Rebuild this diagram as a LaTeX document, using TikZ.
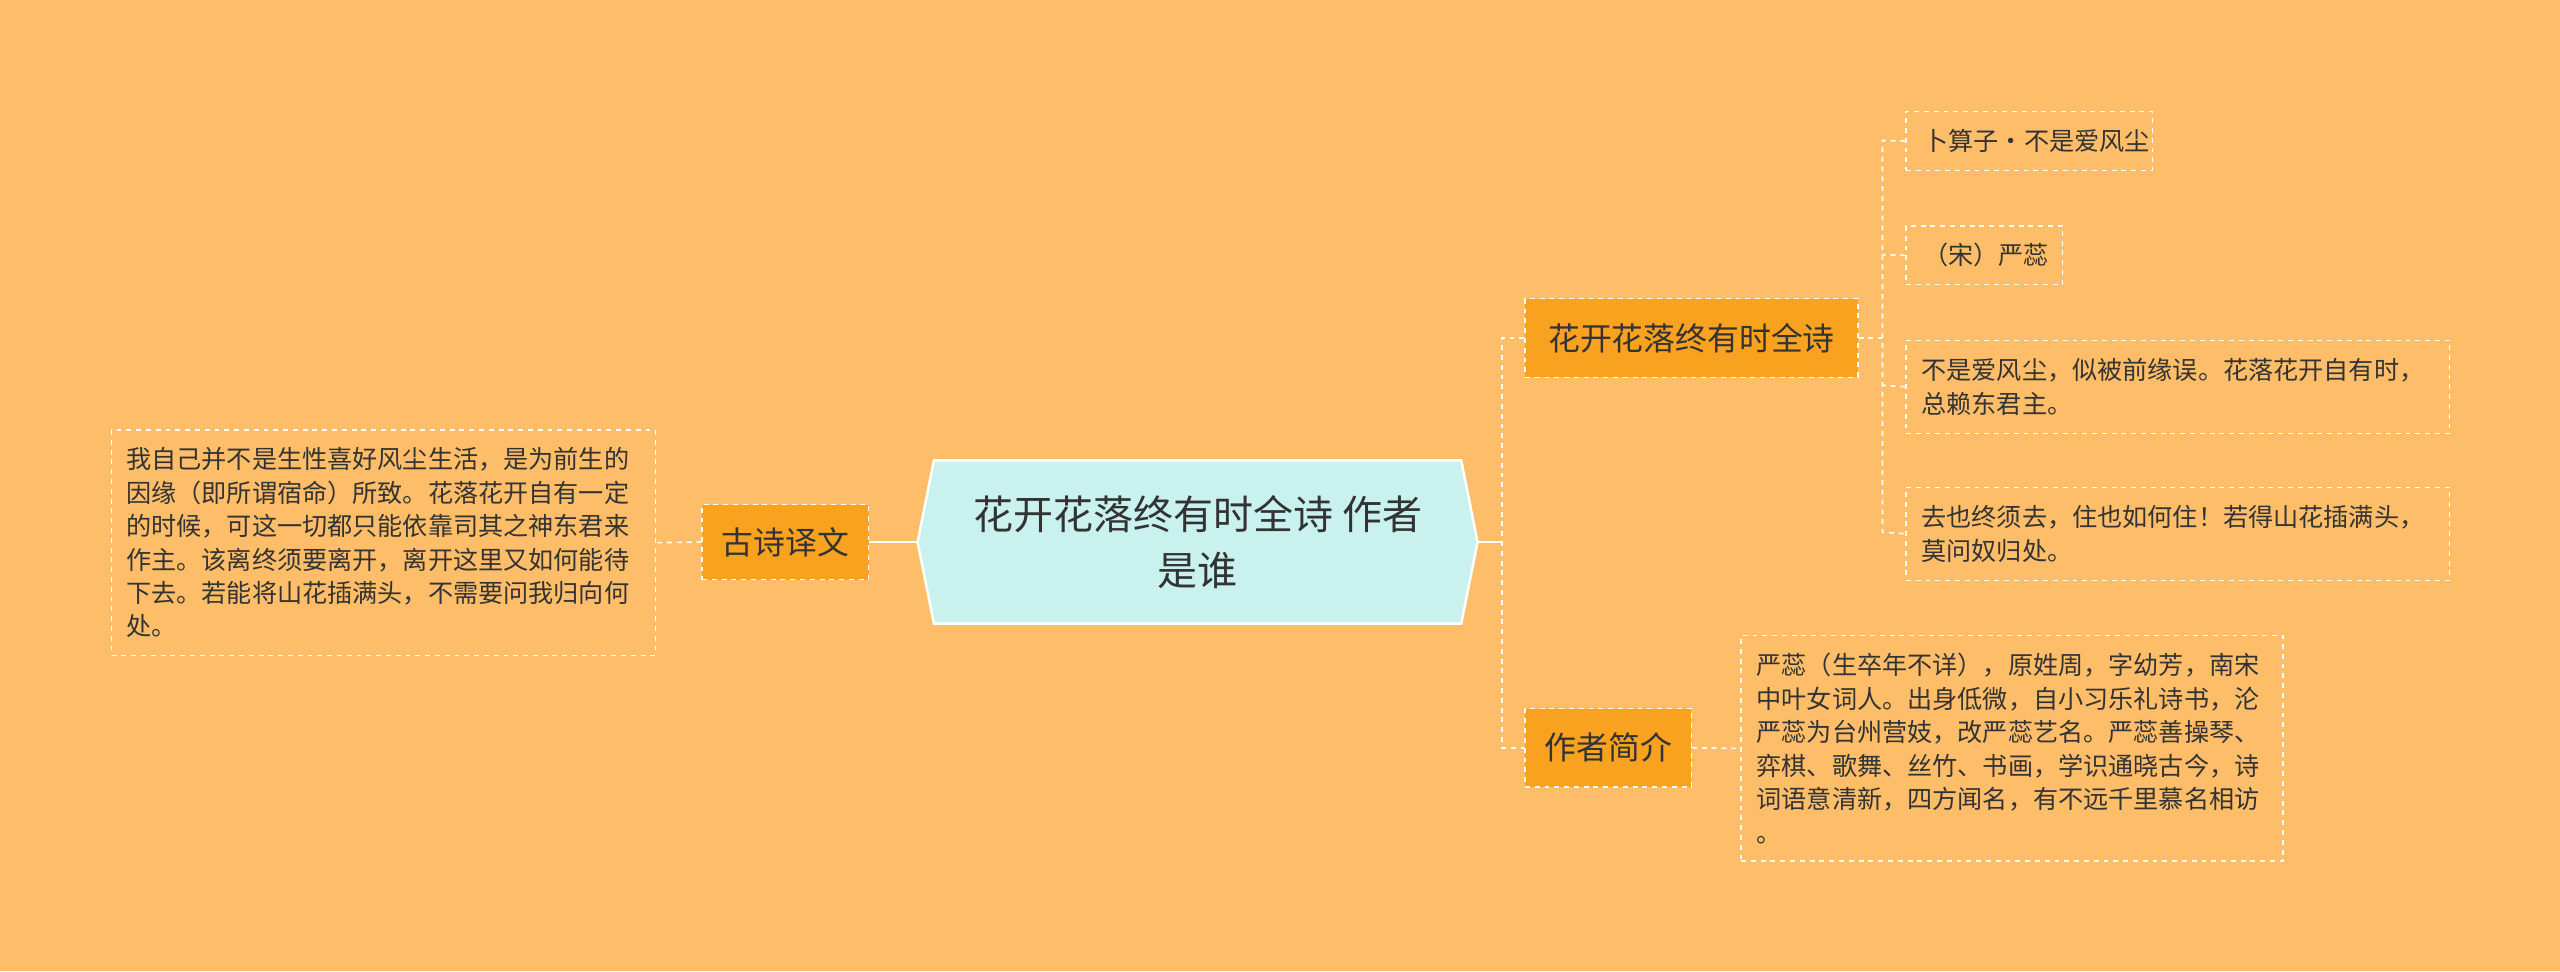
\documentclass[tikz,border=0pt]{standalone}
\usepackage{fontspec}
\setmainfont{Noto Sans CJK SC}
\usetikzlibrary{shapes.geometric}
\definecolor{bg}{HTML}{FEBE69}
\definecolor{mid}{HTML}{F8A21F}
\definecolor{ctr}{HTML}{C9F2EF}
\definecolor{tx}{HTML}{333333}
\tikzset{
 leaf/.style={draw=white,dashed,line width=0.8pt,align=left,font=\fontsize{15.4}{20.5}\selectfont,text=tx,inner sep=0pt,anchor=north west},
 midbox/.style={draw=white,dashed,fill=mid,line width=0.8pt,font=\fontsize{19.5}{22}\selectfont,text=tx,inner sep=0pt},
 conn/.style={draw=white,line width=1pt},
 dconn/.style={draw=white,dashed,line width=1pt}
}
\begin{document}
\begin{tikzpicture}[x=1pt,y=-1pt]
\fill[bg] (0,0) rectangle (1568,595);
\useasboundingbox (0,0) rectangle (1568,595);
% center
\fill[ctr,draw=white,line width=1.5pt] (562,332) -- (572,282) -- (895,282) -- (905,332) -- (895,382) -- (572,382) -- cycle;
\node[align=center,font=\fontsize{24.5}{34}\selectfont,text=tx] (c) at (733.5,332) {花开花落终有时全诗 作者\\是谁};
\coordinate (cl) at (562,332); \coordinate (cr) at (905,332);
% mid boxes
\node[midbox,minimum width=102,minimum height=46] (g) at (481,332) {古诗译文};
\node[midbox,minimum width=204,minimum height=48] (h) at (1036,207) {花开花落终有时全诗};
\node[midbox,minimum width=102,minimum height=48] (z) at (985,458) {作者简介};
% leaves
\node[leaf,minimum width=333,minimum height=138,text width=333] (gl) at (68,263) {\hspace*{9pt}\parbox{323pt}{我自己并不是生性喜好风尘生活，是为前生的\\因缘（即所谓宿命）所致。花落花开自有一定\\的时候，可这一切都只能依靠司其之神东君来\\作主。该离终须要离开，离开这里又如何能待\\下去。若能将山花插满头，不需要问我归向何\\处。}};
\node[leaf,minimum width=151,minimum height=36] (l1) at (1167,68) {\hspace*{9pt}卜算子·不是爱风尘};
\node[leaf,minimum width=96,minimum height=36] (l2) at (1167,138) {\hspace*{2pt}（宋）严蕊};
\node[leaf,minimum width=333,minimum height=57] (l3) at (1167,208) {\hspace*{9pt}\parbox{323pt}{不是爱风尘，似被前缘误。花落花开自有时，\\总赖东君主。}};
\node[leaf,minimum width=333,minimum height=57] (l4) at (1167,298) {\hspace*{9pt}\parbox{323pt}{去也终须去，住也如何住！若得山花插满头，\\莫问奴归处。}};
\node[leaf,minimum width=332,minimum height=138] (bio) at (1066,389) {\hspace*{9pt}\parbox{322pt}{严蕊（生卒年不详），原姓周，字幼芳，南宋\\中叶女词人。出身低微，自小习乐礼诗书，沦\\严蕊为台州营妓，改严蕊艺名。严蕊善操琴、\\弈棋、歌舞、丝竹、书画，学识通晓古今，诗\\词语意清新，四方闻名，有不远千里慕名相访\\。}};
% connectors
\draw[conn] (cl) -- (g.east);
\draw[dconn] (g.west) -- (gl.east);
\draw[conn] (cr) -- (920,332);
\draw[dconn] (h.west) -- (920,207) -- (920,458) -- (z.west);
\draw[dconn] (z.east) -- (bio.west);
\draw[dconn] (h.east) -- (1153,207);
\draw[dconn] (l1.west) -- (1153,86) -- (1153,326) -- (l4.west);
\draw[dconn] (l2.west) -- (1153,156);
\draw[dconn] (l3.west) -- (1153,236);
\end{tikzpicture}
\end{document}
